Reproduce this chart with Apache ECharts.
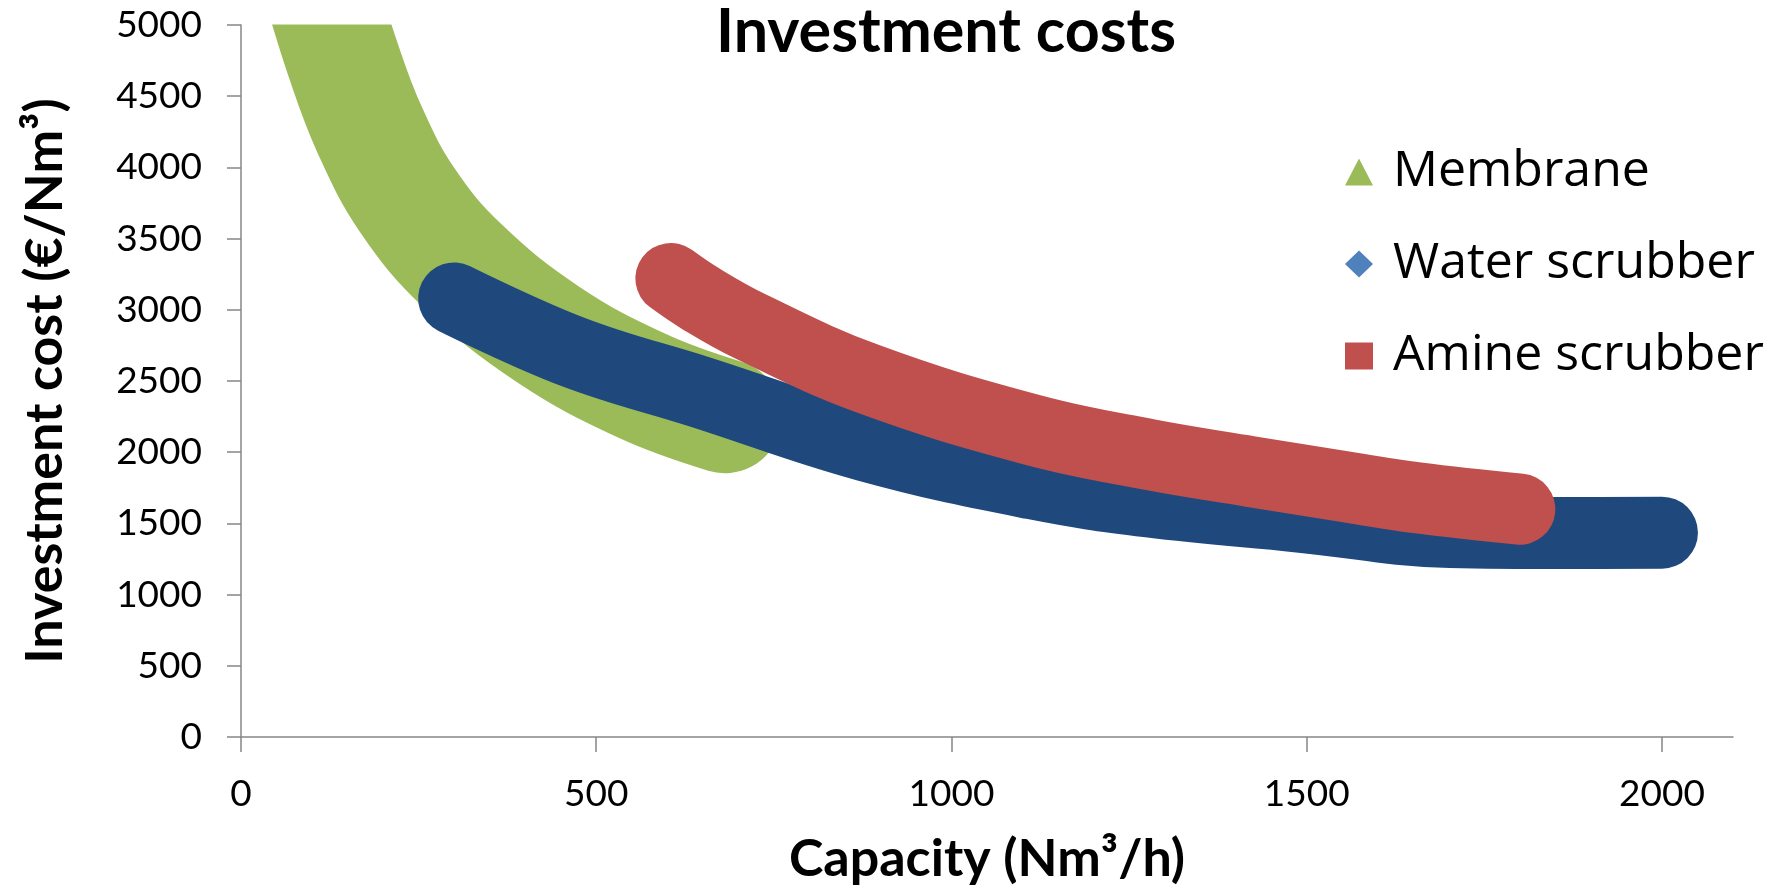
<!DOCTYPE html>
<html><head><meta charset="utf-8">
<script src="https://cdn.jsdelivr.net/npm/echarts@6/dist/echarts.min.js"></script>
<style>html,body{margin:0;padding:0;background:#fff}#c{width:1783px;height:888px}</style>
</head><body><div id="c"></div>
<script>
// ---- data ----
const seriesNames = ['Membrane', 'Water scrubber', 'Amine scrubber'];
const membraneX = [108, 144, 181, 234, 311, 432, 566, 681];
const membraneY = [5333, 4751, 4265, 3770, 3312, 2828, 2463, 2253];
const waterX = [300, 468, 646, 881, 1115, 1279, 1490, 1702, 1866, 2000];
const waterY = [3080, 2703, 2423, 2045, 1780, 1653, 1548, 1440, 1432, 1435];
const amineX = [605, 646, 716, 881, 1115, 1279, 1420, 1561, 1655, 1800];
const amineY = [3220, 3081, 2886, 2518, 2155, 1983, 1865, 1752, 1680, 1600];
const xTicks = [0, 500, 1000, 1500, 2000];
const yMin = 0, yMax = 5000, yStep = 500;
const xMin = 0, xMax = 2100;

const zip = (xs, ys) => xs.map((x, i) => [x, ys[i]]);

const chart = echarts.init(document.getElementById('c'), null, {renderer: 'canvas'});
const axisColor = '#878787';
function bandSeries(name, xs, ys, color, width) {
  return {
    type: 'line', name: name, data: zip(xs, ys),
    smooth: 0.4, showSymbol: false, symbol: 'none', clip: true, silent: true,
    lineStyle: {width: width, color: color, cap: 'round', join: 'round'},
    itemStyle: {color: color}
  };
}
chart.setOption({
  animation: false,
  backgroundColor: '#ffffff',
  title: {
    text: 'Investment costs', left: 946, top: 2, textAlign: 'center', padding: 0,
    textStyle: {fontFamily: 'Lato', fontWeight: 'bold', fontSize: 61, color: '#000'}
  },
  grid: {left: 241, right: 50, top: 25, bottom: 151, containLabel: false, outerBoundsMode: 'none'},
  legend: {
    orient: 'vertical', left: 1345, top: 147, padding: 0, itemGap: 42,
    itemWidth: 28, itemHeight: 27,
    textStyle: {fontFamily: 'Open Sans', fontSize: 50, color: '#000', lineHeight: 50, padding: [0, 0, 0, 15]},
    data: [
      {name: seriesNames[0], icon: 'triangle', itemStyle: {color: '#9BBB59', borderWidth: 0}},
      {name: seriesNames[1], icon: 'diamond', itemStyle: {color: '#4F81BD', borderWidth: 0}},
      {name: seriesNames[2], icon: 'rect', itemStyle: {color: '#C0504D', borderWidth: 0}}
    ]
  },
  xAxis: {
    type: 'value', min: xMin, max: xMax,
    name: 'Capacity (Nm³/h)', nameLocation: 'middle', nameGap: 96,
    nameTextStyle: {fontFamily: 'Lato', fontWeight: 'bold', fontSize: 52, color: '#000'},
    axisLine: {show: true, lineStyle: {color: axisColor, width: 1.5}},
    axisTick: {show: true, inside: false, length: 15, customValues: xTicks, lineStyle: {color: axisColor, width: 1.5}},
    axisLabel: {customValues: xTicks, margin: 39, fontFamily: 'Lato', fontSize: 37, color: '#000', formatter: v => String(v)},
    splitLine: {show: false}
  },
  yAxis: {
    type: 'value', min: yMin, max: yMax, interval: yStep,
    name: 'Investment cost (€/Nm³)', nameLocation: 'middle', nameGap: 170, nameRotate: 90,
    nameTextStyle: {fontFamily: 'Lato', fontWeight: 'bold', fontSize: 52, color: '#000'},
    axisLine: {show: true, lineStyle: {color: axisColor, width: 1.5}},
    axisTick: {show: true, inside: false, length: 14, lineStyle: {color: axisColor, width: 1.5}},
    axisLabel: {margin: 39, fontFamily: 'Lato', fontSize: 37, color: '#000', formatter: v => String(v)},
    splitLine: {show: false}
  },
  graphic: [{
    type: 'rect', z: 100, silent: true,
    shape: {x: 242, y: 0, width: 300, height: 24.5},
    style: {fill: '#ffffff'}
  }],
  series: [
    bandSeries(seriesNames[0], membraneX, membraneY, '#9BBB59', 114),
    bandSeries(seriesNames[1], waterX, waterY, '#1F497D', 72),
    bandSeries(seriesNames[2], amineX, amineY, '#C0504D', 71)
  ]
});
</script></body></html>
